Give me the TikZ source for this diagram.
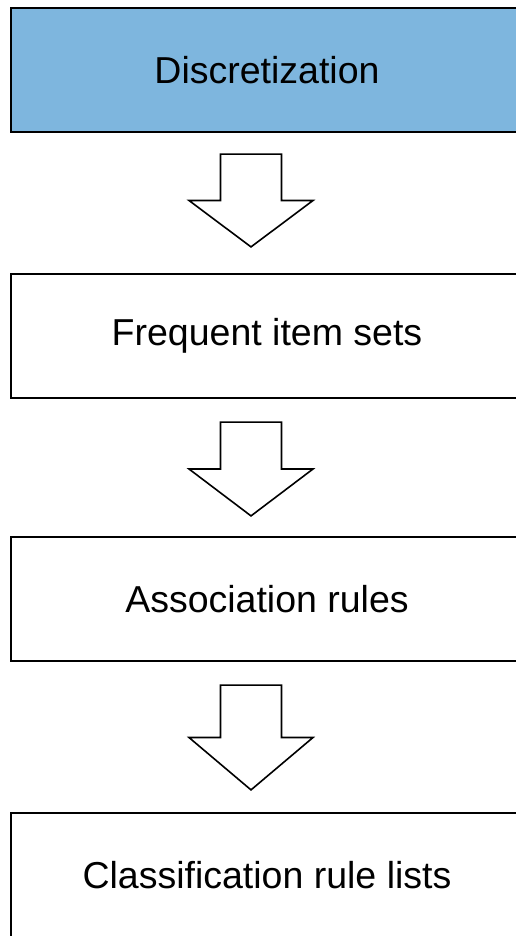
\documentclass[tikz,border=0pt]{standalone}
\usepackage{fontspec}
\setmainfont{Liberation Sans}
\usetikzlibrary{calc}
\definecolor{boxblue}{RGB}{126,182,222}
\tikzset{
  stagebox/.style={draw=black, line width=2.2pt, fill=white, minimum width=512pt, minimum height=124pt, inner sep=0pt, font=\fontsize{37.5pt}{40pt}\selectfont},
  blockarrow/.style={draw=black, line width=1.6pt, fill=white, line join=miter}
}
\begin{document}
\begin{tikzpicture}[x=1pt,y=1pt]
\useasboundingbox (0,0) rectangle (515,-936);
\fill[white] (0,0) rectangle (515,-936);
\node[stagebox, fill=boxblue] (b1) at (267,-70) {Discretization};
\node[stagebox] (b2) at (267,-336) {Frequent item sets};
\node[stagebox] (b3) at (267,-599) {Association rules};
\node[stagebox] (b4) at (267,-875) {Classification rule lists};
% block arrows between stages: from box (gap below) to next box (gap above)
\foreach \a/\b/\gtop/\gtip in {b1/b2/21/26, b2/b3/23/20, b3/b4/23/22}{
  \coordinate (t) at ($(\a.south)+(-16,-\gtop)$);
  \coordinate (p) at ($(\b.north)+(-16,\gtip)$);
  \path let \p1=(t), \p2=(p), \n1={(\y1+\y2)/2} in
    coordinate (s) at (\x1,\n1);
  \draw[blockarrow] ($(t)+(-30.5,0)$) -- ($(t)+(30.5,0)$) -- ($(s)+(30.5,0)$) -- ($(s)+(62,0)$) -- (p) -- ($(s)+(-62,0)$) -- ($(s)+(-30.5,0)$) -- cycle;
}
\end{tikzpicture}
\end{document}
